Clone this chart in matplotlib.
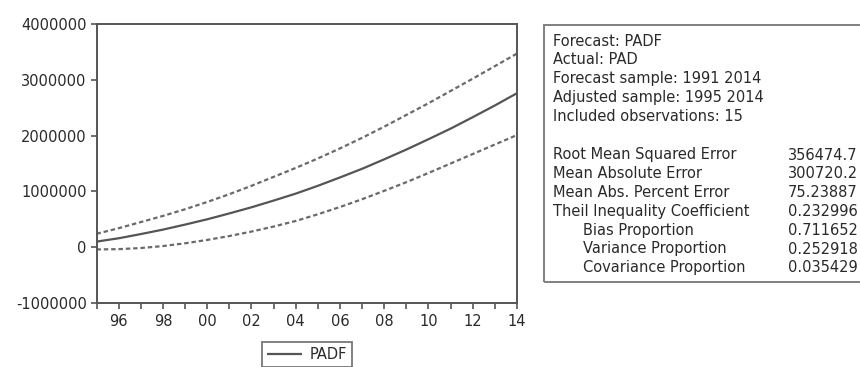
import matplotlib
matplotlib.use("Agg")
import matplotlib.pyplot as plt
from matplotlib.patches import Rectangle

# ---------------- data ----------------
years = list(range(1995, 2015))
padf = [100000, 160000, 235000, 315000, 405000, 500000, 605000, 715000, 835000, 960000,
        1100000, 1250000, 1405000, 1575000, 1750000, 1935000, 2125000, 2330000, 2540000, 2760000]
padf_upper = [240000, 340000, 450000, 560000, 680000, 810000, 950000, 1100000, 1260000, 1420000,
              1590000, 1770000, 1960000, 2160000, 2370000, 2580000, 2800000, 3020000, 3245000, 3470000]
padf_lower = [-40000, -35000, -15000, 20000, 70000, 130000, 200000, 280000, 370000, 470000,
              590000, 720000, 860000, 1010000, 1165000, 1330000, 1500000, 1670000, 1840000, 2010000]

y_ticks = [-1000000, 0, 1000000, 2000000, 3000000, 4000000]
y_tick_labels = ["-1000000", "0", "1000000", "2000000", "3000000", "4000000"]
x_major = [1996, 1998, 2000, 2002, 2004, 2006, 2008, 2010, 2012, 2014]
x_minor = [1995, 1997, 1999, 2001, 2003, 2005, 2007, 2009, 2011, 2013]
x_tick_labels = ["96", "98", "00", "02", "04", "06", "08", "10", "12", "14"]
legend_label = "PADF"

header_lines = ["Forecast: PADF", "Actual: PAD", "Forecast sample: 1991 2014",
                "Adjusted sample: 1995 2014", "Included observations: 15"]
stat_names = ["Root Mean Squared Error", "Mean Absolute Error", "Mean Abs. Percent Error",
              "Theil Inequality Coefficient", "Bias Proportion", "Variance Proportion",
              "Covariance Proportion"]
stat_indent = [False, False, False, False, True, True, True]
stat_values = ["356474.7", "300720.2", "75.23887", "0.232996", "0.711652", "0.252918", "0.035429"]

# ---------------- style ----------------
plt.rcParams["font.family"] = ["DejaVu Sans"]
FS = 10.5
TXT = "#2a2a2a"
AX = "#555555"
W, H = 860, 367

fig = plt.figure(figsize=(W / 100, H / 100), dpi=100)
fig.patch.set_facecolor("white")

ax_l, ax_r, ax_t, ax_b = 96.5, 517.0, 24.0, 303.0
ax = fig.add_axes([ax_l / W, 1 - ax_b / H, (ax_r - ax_l) / W, (ax_b - ax_t) / H])

line, = ax.plot(years, padf, color="#555555", lw=1.6, solid_capstyle="butt")
ax.plot(years, padf_upper, color="#6a6a6a", lw=1.6, linestyle=(0, (2.0, 1.3)))
ax.plot(years, padf_lower, color="#6a6a6a", lw=1.6, linestyle=(0, (2.0, 1.3)))

ax.set_xlim(1995, 2014)
ax.set_ylim(-1000000, 4000000)
ax.set_yticks(y_ticks)
ax.set_yticklabels(y_tick_labels)
ax.set_xticks(x_major)
ax.set_xticklabels(x_tick_labels)
ax.set_xticks(x_minor, minor=True)

for s in ax.spines.values():
    s.set_color(AX)
    s.set_linewidth(1.4)

ax.tick_params(axis="both", which="both", direction="out", length=4, width=1.2,
               color=AX, labelcolor=TXT, labelsize=FS)
ax.tick_params(axis="x", which="both", pad=4)
ax.tick_params(axis="y", pad=3)

# legend below axes
leg = fig.legend([line], [legend_label], loc="upper center",
                 bbox_to_anchor=(307 / W, 1 - 342 / H), frameon=True, fancybox=False,
                 fontsize=FS, handlelength=2.4, handletextpad=0.5, borderpad=0.35,
                 borderaxespad=0)
leg.get_frame().set_edgecolor(AX)
leg.get_frame().set_linewidth(1.3)
for t in leg.get_texts():
    t.set_color(TXT)

# statistics box on the right
box = Rectangle((543.5 / W, 1 - 281.5 / H), (880 - 543.5) / W, (281.5 - 24.5) / H,
                transform=fig.transFigure, facecolor="none", edgecolor="#808080",
                linewidth=1.4, clip_on=False)
fig.patches.append(box)

header_y = [41.7, 60.0, 78.8, 97.5, 116.5]
for yy, s in zip(header_y, header_lines):
    fig.text(553 / W, 1 - yy / H, s, ha="left", va="center", fontsize=FS, color=TXT)

stat_y = [155.0, 173.5, 192.5, 211.0, 230.0, 249.0, 267.5]
for yy, name, ind, val in zip(stat_y, stat_names, stat_indent, stat_values):
    x0 = 583 if ind else 553
    fig.text(x0 / W, 1 - yy / H, name, ha="left", va="center", fontsize=FS, color=TXT)
    fig.text(788 / W, 1 - yy / H, val, ha="left", va="center", fontsize=FS, color=TXT)

fig.savefig("out.png", dpi=100, facecolor="white")
